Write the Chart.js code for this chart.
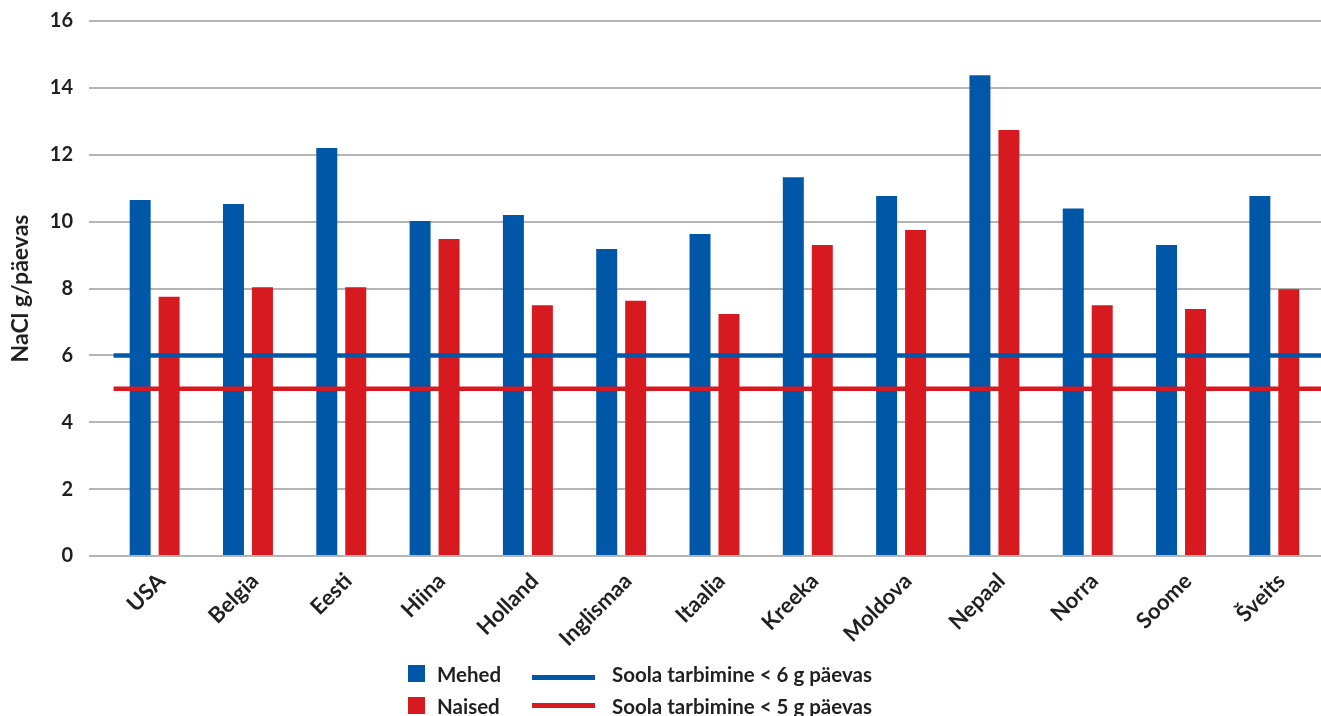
<!DOCTYPE html>
<html lang="et">
<head>
<meta charset="utf-8">
<title>Soola tarbimine</title>
<script src="https://cdn.jsdelivr.net/npm/chart.js@4/dist/chart.umd.min.js"></script>
<style>
  html, body { margin: 0; padding: 0; background: #fff; }
  #wrap { position: relative; width: 1321px; height: 716px; overflow: hidden; font-family: Lato, "Open Sans", sans-serif; font-weight: 700; color: #231f20; }
  #wrap canvas { position: absolute; left: 0; top: 0; }
  .sw { position: absolute; width: 17px; height: 17px; }
  .ln { position: absolute; width: 63px; height: 5px; }
  .tx { position: absolute; font-size: 20.5px; line-height: 21px; white-space: nowrap; }
</style>
</head>
<body>
<div id="wrap">
  <canvas id="chart" width="1321" height="716"></canvas>
  <div id="legend"></div>
</div>
<script>
// Riigid
const categories = ['USA', 'Belgia', 'Eesti', 'Hiina', 'Holland', 'Inglismaa', 'Itaalia', 'Kreeka', 'Moldova', 'Nepaal', 'Norra', 'Soome', 'Šveits'];
// Soola tarbimine, NaCl g/päevas
const mehed  = [10.65, 10.53, 12.2, 10.02, 10.2, 9.18, 9.63, 11.33, 10.77, 14.38, 10.39, 9.3, 10.77];
const naised = [7.75, 8.04, 8.04, 9.48, 7.5, 7.63, 7.24, 9.3, 9.75, 12.74, 7.5, 7.39, 7.98];
// Soovituslikud piirid
const limitMehed = 6;
const limitNaised = 5;
const yTicks = [0, 2, 4, 6, 8, 10, 12, 14, 16];

const BLUE = '#0057a8';
const RED = '#d71920';
const TEXT = '#231f20';
const FONT = 'Lato, "Open Sans", sans-serif';

// piirjooned kulgevad üle kogu kategooriate ala
const lineFrom = 0.06, lineTo = categories.length;
const limitLine = (v) => [{ x: lineFrom, y: v }, { x: lineTo, y: v }];

// tulpade laius: grupis kaks tulpa, vahe nende vahel
const barStyle = { categoryPercentage: 1.242, barPercentage: 0.724 };

new Chart(document.getElementById('chart'), {
  type: 'line',
  data: {
    labels: categories,
    datasets: [
      { type: 'line', label: 'Soola tarbimine < 6 g päevas', data: limitLine(limitMehed), xAxisID: 'xl',
        borderColor: BLUE, borderWidth: 4.5, pointRadius: 0, borderCapStyle: 'butt', order: 0 },
      { type: 'line', label: 'Soola tarbimine < 5 g päevas', data: limitLine(limitNaised), xAxisID: 'xl',
        borderColor: RED, borderWidth: 4.5, pointRadius: 0, borderCapStyle: 'butt', order: 0 },
      { type: 'bar', label: 'Mehed', data: mehed, backgroundColor: BLUE, xAxisID: 'x', order: 1, ...barStyle },
      { type: 'bar', label: 'Naised', data: naised, backgroundColor: RED, xAxisID: 'x', order: 1, ...barStyle }
    ]
  },
  options: {
    responsive: false,
    animation: false,
    layout: { padding: { top: 21, right: 0, bottom: 0, left: 0 } },
    plugins: { legend: { display: false }, tooltip: { enabled: false } },
    scales: {
      x: {
        type: 'category',
        offset: true,
        grid: { display: false, offset: true },
        border: { display: false },
        ticks: {
          color: TEXT, font: { family: FONT, weight: 'bold', size: 22 },
          minRotation: 45, maxRotation: 45, autoSkip: false, padding: 4, labelOffset: 7
        },
        afterFit: (s) => { s.height = 160; }
      },
      xl: { type: 'linear', display: false, offset: false, min: 0, max: categories.length },
      y: {
        type: 'linear', min: 0, max: 16,
        afterBuildTicks: (s) => { s.ticks = yTicks.map(v => ({ value: v })); },
        grid: { color: '#b4b4b4', lineWidth: 2, drawTicks: true, tickLength: 19 },
        border: { display: false },
        ticks: { color: TEXT, font: { family: FONT, weight: 'bold', size: 20 }, padding: 16 },
        title: { display: true, text: 'NaCl g/päevas', color: TEXT,
                 font: { family: FONT, weight: 'bold', size: 23 }, padding: { top: 7, bottom: 0 } },
        afterFit: (s) => { s.width = 108; s.paddingTop = 0; s.paddingBottom = 0; }
      }
    }
  }
});

// Legend: two columns, bar series on the left, limit lines on the right
const legendItems = [
  { kind: 'sw', color: BLUE, text: 'Mehed', x: 408, y: 665, tx: 437 },
  { kind: 'sw', color: RED, text: 'Naised', x: 408, y: 697, tx: 437 },
  { kind: 'ln', color: BLUE, text: 'Soola tarbimine < 6 g päevas', x: 532, y: 675, tx: 612 },
  { kind: 'ln', color: RED, text: 'Soola tarbimine < 5 g päevas', x: 532, y: 703, tx: 612 }
];
const lg = document.getElementById('legend');
legendItems.forEach((it, i) => {
  const m = document.createElement('div');
  m.className = it.kind;
  m.style.left = it.x + 'px';
  m.style.top = it.y + 'px';
  m.style.background = it.color;
  lg.appendChild(m);
  const t = document.createElement('div');
  t.className = 'tx';
  t.textContent = it.text;
  t.style.left = it.tx + 'px';
  t.style.top = (i % 2 === 0 ? 663.5 : 695.5) + 'px';
  lg.appendChild(t);
});
</script>
</body>
</html>
